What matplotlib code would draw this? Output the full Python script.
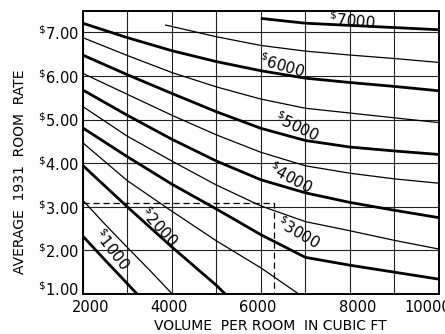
import matplotlib
matplotlib.use("Agg")
import matplotlib.pyplot as plt
from matplotlib.transforms import ScaledTranslation

plt.rcParams['font.family'] = ['DejaVu Sans']
plt.rcParams['mathtext.fontset'] = 'dejavusans'

# Construction cost per room (curve labels) and traced points: volume (cu ft), room rate ($)
cost_1000 = ([2000, 2500, 3000, 3220], [2.33, 1.78, 1.24, 1.00])
cost_1500 = ([2000, 2500, 3000, 3500, 4010], [3.15, 2.60, 2.07, 1.55, 1.00])
cost_2000 = ([2000, 3000, 4000, 5000, 5200], [3.95, 3.00, 2.08, 1.20, 1.00])
cost_2500 = ([2000, 3000, 4000, 5000, 6000, 6850], [4.47, 3.60, 2.90, 2.22, 1.60, 1.00])
cost_3000 = ([2000, 3000, 4000, 5000, 6000, 7000, 8000, 9000, 10000],
             [4.81, 4.15, 3.52, 2.95, 2.36, 1.84, 1.66, 1.50, 1.34])
cost_3500 = ([2000, 3000, 4000, 5000, 6000, 7000, 8000, 9000, 10000],
             [5.30, 4.62, 4.05, 3.50, 3.02, 2.66, 2.45, 2.23, 2.03])
cost_4000 = ([2000, 3000, 4000, 5000, 6000, 7000, 8000, 9000, 10000],
             [5.68, 5.10, 4.55, 4.05, 3.62, 3.32, 3.10, 2.92, 2.75])
cost_4500 = ([2000, 3000, 4000, 5000, 6000, 7000, 8000, 9000, 10000],
             [6.06, 5.58, 5.10, 4.65, 4.25, 3.94, 3.77, 3.64, 3.54])
cost_5000 = ([2000, 3000, 4000, 5000, 6000, 7000, 8000, 9000, 10000],
             [6.48, 6.03, 5.60, 5.18, 4.80, 4.52, 4.37, 4.28, 4.20])
cost_5500 = ([2000, 3000, 4000, 5000, 6000, 7000, 8000, 9000, 10000],
             [6.88, 6.47, 6.08, 5.75, 5.47, 5.26, 5.15, 5.04, 4.93])
cost_6000 = ([2000, 3000, 4000, 5000, 6000, 7000, 8000, 9000, 10000],
             [7.21, 6.88, 6.58, 6.33, 6.12, 5.95, 5.85, 5.76, 5.66])
cost_6500 = ([3850, 5000, 6000, 7000, 8000, 9000, 10000],
             [7.17, 6.90, 6.70, 6.57, 6.48, 6.40, 6.31])
cost_7000 = ([6000, 7000, 8000, 9000, 10000], [7.32, 7.21, 7.16, 7.11, 7.06])

major_curves = [cost_1000, cost_2000, cost_3000, cost_4000, cost_5000, cost_6000, cost_7000]
minor_curves = [cost_1500, cost_2500, cost_3500, cost_4500, cost_5500, cost_6500]

curve_labels = ["1000", "2000", "3000", "4000", "5000", "6000", "7000"]

example_volume = 6290
example_rate = 3.08

x_ticks = [2000, 4000, 6000, 8000, 10000]
y_ticks = [1.00, 2.00, 3.00, 4.00, 5.00, 6.00, 7.00]

fig = plt.figure(figsize=(4.45, 3.34), dpi=100)
ax = fig.add_axes([82.7 / 445, 40 / 334, (439 - 82.7) / 445, 283 / 334])
ax.set_xlim(2000, 10000)
ax.set_ylim(1.0, 7.49)

# grid
for gx in range(2000, 10001, 1000):
    ax.axvline(gx, color='#222222', lw=0.8, zorder=1)
for gy in y_ticks:
    ax.axhline(gy, color='#222222', lw=0.8, zorder=1)

for xs, ys in minor_curves:
    ax.plot(xs, ys, color='black', lw=0.9, solid_capstyle='butt', zorder=3)
for xs, ys in major_curves:
    ax.plot(xs, ys, color='black', lw=2.0, solid_capstyle='butt', zorder=3)

# dashed example line
ax.plot([2000, example_volume, example_volume], [example_rate, example_rate, 1.0],
        color='black', lw=0.9, ls=(0, (5, 3)), zorder=2)

label_pos = [(2658, 2.03, -52), (3726, 2.55, -47), (6840, 2.40, -30), (6665, 3.66, -28),
             (6817, 4.85, -25), (6485, 6.23, -16), (8055, 7.26, -5)]
for txt, (lx, ly, rot) in zip(curve_labels, label_pos):
    ax.text(lx, ly, r"$^{\$}$" + txt, fontsize=11, rotation=rot,
            rotation_mode='anchor', ha='center', va='center', zorder=4)

ax.set_xticks(x_ticks)
ax.set_xticklabels([str(v) for v in x_ticks], fontsize=10.5)
ax.set_yticks(y_ticks)
ax.set_yticklabels([r"$^{\$}$" + f"{v:.2f}" for v in y_ticks], fontsize=10.5)
ax.tick_params(length=0, pad=3)
ax.tick_params(axis='x', pad=4)

# nudge individual tick labels (offsets in pixels at 100 dpi)
x_shift = [8, -3, -3, 8, -11]
for lbl, dx in zip(ax.get_xticklabels(), x_shift):
    lbl.set_transform(lbl.get_transform() +
                      ScaledTranslation(dx / 100, 0, fig.dpi_scale_trans))
bottom_lbl = ax.get_yticklabels()[0]
bottom_lbl.set_transform(bottom_lbl.get_transform() +
                         ScaledTranslation(0, 6 / 100, fig.dpi_scale_trans))

for s in ax.spines.values():
    s.set_linewidth(1.4)

fig.text(270 / 445, 1 - 326 / 334, "VOLUME  PER ROOM  IN CUBIC FT", fontsize=10,
         ha='center', va='center')
fig.text(20 / 445, 1 - 172 / 334, "AVERAGE  1931  ROOM  RATE", fontsize=10,
         rotation=90, ha='center', va='center')

fig.savefig("out.png", dpi=100)
